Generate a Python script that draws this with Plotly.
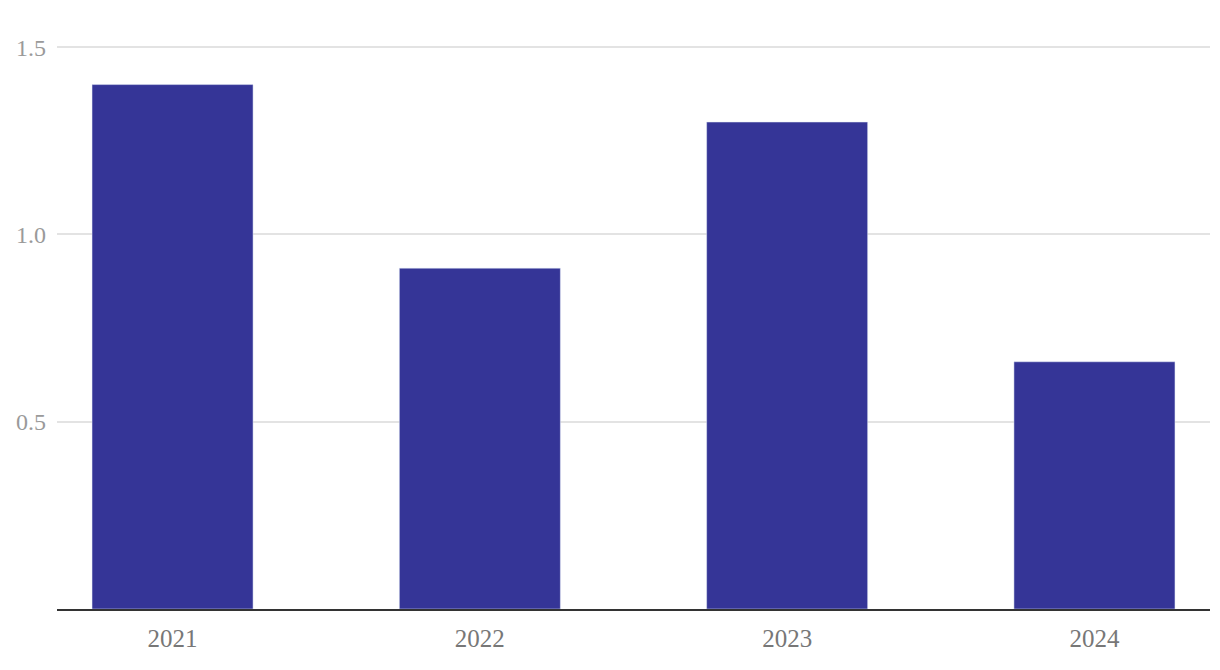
import plotly.graph_objects as go

years = ['2021', '2022', '2023', '2024']
values = [1.40, 0.91, 1.30, 0.66]
y_ticks = [0.5, 1.0, 1.5]
y_tick_text = ['0.5', '1.0', '1.5']

fig = go.Figure()
fig.add_trace(go.Bar(x=years, y=values, marker_color='#353597', width=0.524))

# the page body adds 8px around the figure, so size and margins allow for it
fig.update_layout(
    width=1204, height=654,
    margin={'t': 38, 'b': 53, 'l': 49, 'r': 2},
    plot_bgcolor='white', paper_bgcolor='white',
    font={'family': 'Liberation Serif', 'size': 22},
    showlegend=False,
)
fig.update_xaxes(
    type='category', range=[-0.376, 3.376],
    showline=True, linecolor='#333333', linewidth=2,
    tickfont={'color': '#777777', 'size': 25}, ticklabelstandoff=6,
    showgrid=False,
)
fig.update_yaxes(
    range=[0, 1.503], tickvals=y_ticks, ticktext=y_tick_text,
    tickfont={'color': '#9a9a9a', 'size': 24}, ticklabelstandoff=10,
    gridcolor='#e3e3e3', gridwidth=1.5, zeroline=False,
)

fig.write_html('out.html')
